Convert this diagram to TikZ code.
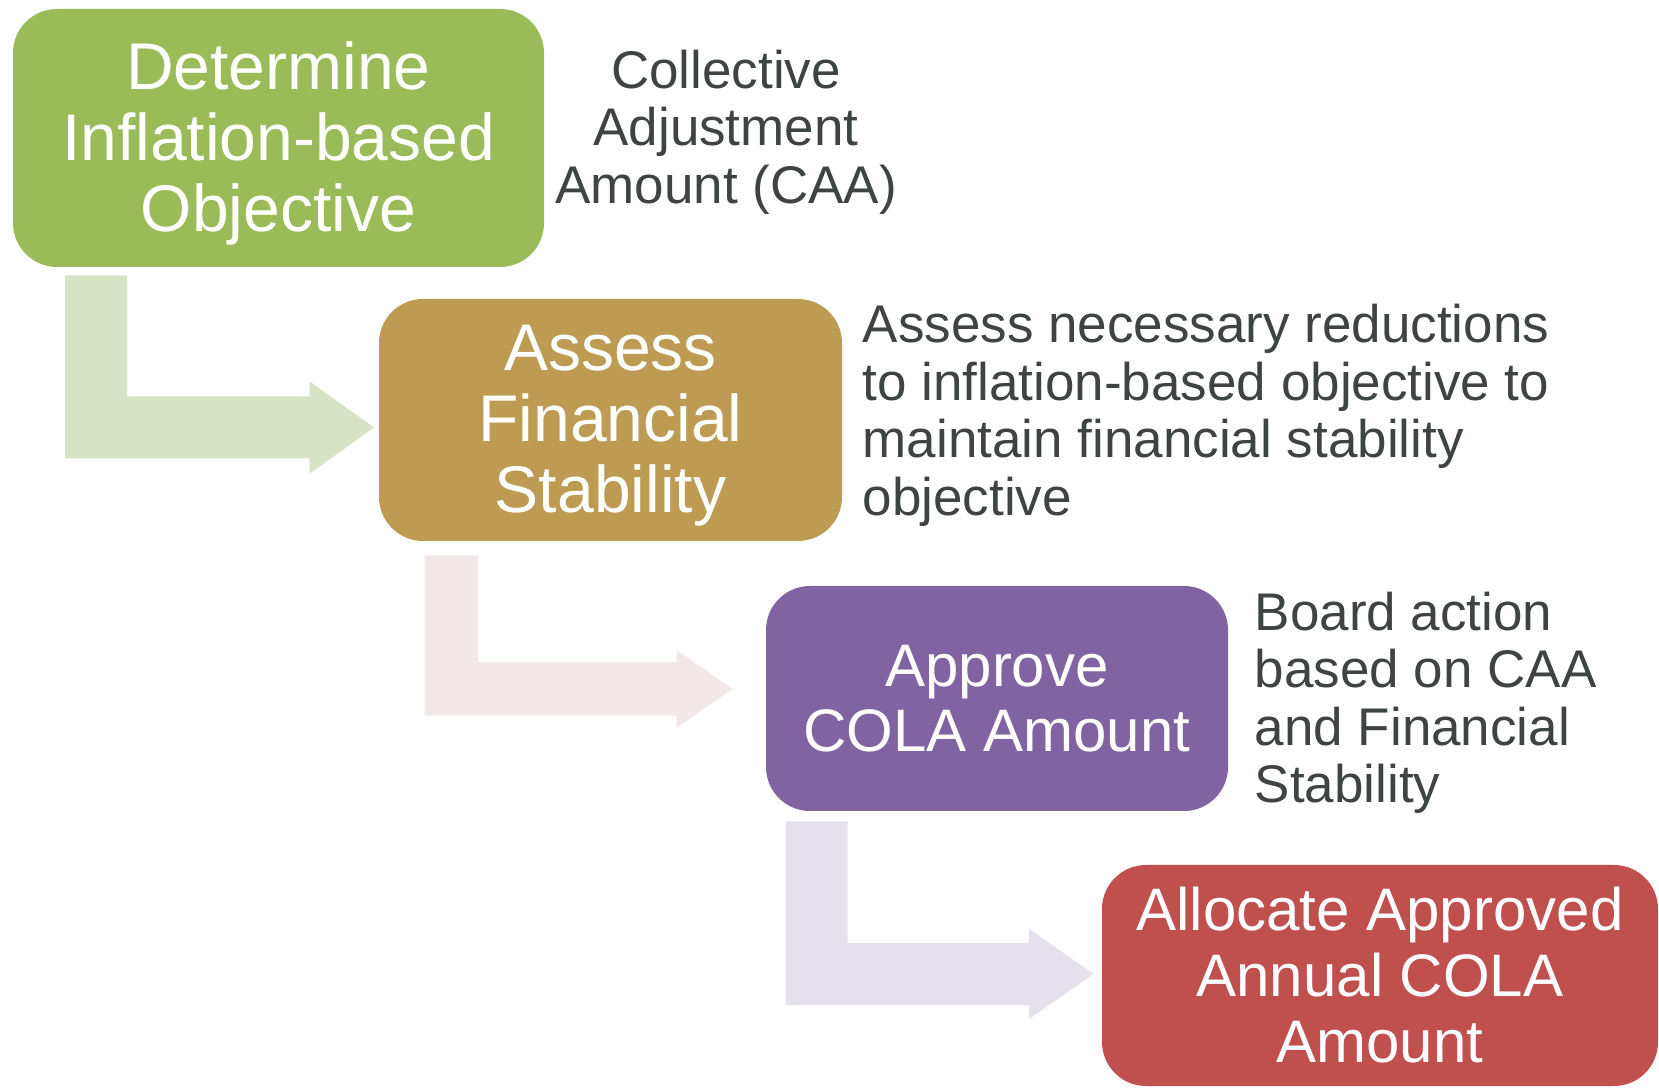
\documentclass[tikz,border=0pt]{standalone}
\usepackage{fontspec}
\setmainfont{Liberation Sans}
\usepackage{tikz}
\usetikzlibrary{positioning,calc}
\usepackage{xcolor}
\definecolor{stepgreen}{RGB}{155,187,89}
\definecolor{stepbrown}{RGB}{190,155,83}
\definecolor{steppurple}{RGB}{128,100,162}
\definecolor{stepred}{RGB}{192,80,77}
\definecolor{arrowgreen}{RGB}{215,227,197}
\definecolor{arrowpink}{RGB}{242,232,232}
\definecolor{arrowlilac}{RGB}{229,224,236}
\definecolor{notegray}{RGB}{62,68,68}

% bent block arrow: colour, shaft top-left, tip, bar width, head half height, head length
\newcommand{\bentarrow}[6]{%
  \fill[#1] let \p1=(#2), \p2=(#3) in
    (\x1,\y1) -- (\x1+#4,\y1) -- (\x1+#4,\y2+#4/2) -- (\x2-#6,\y2+#4/2)
    -- (\x2-#6,\y2+#5) -- (\x2,\y2) -- (\x2-#6,\y2-#5) -- (\x2-#6,\y2-#4/2)
    -- (\x1,\y2-#4/2) -- cycle;
}

\begin{document}
\begin{tikzpicture}[x=0.5pt,y=0.5pt,
  stepbox/.style={rounded corners=22pt,inner sep=0pt},
  steptext/.style={text=white,align=center,inner sep=0pt},
  bigtext/.style={font=\fontsize{33}{35.5}\selectfont},
  midtext/.style={font=\fontsize{30}{32.5}\selectfont},
  note/.style={text=notegray,inner sep=0pt,font=\fontsize{26.5}{28.75}\selectfont}]
\useasboundingbox (0,0) rectangle (1659,1087);
% Step boxes
\node[stepbox,fill=stepgreen,minimum width=265.5pt,minimum height=129pt] (det) at (278.5,949) {};
\node[stepbox,fill=stepbrown,minimum width=231.5pt,minimum height=121pt] (fin) at (610.5,667) {};
\node[stepbox,fill=steppurple,minimum width=231pt,minimum height=112.5pt] (appr) at (997,388.5) {};
\node[stepbox,fill=stepred,minimum width=278pt,minimum height=110.5pt] (alloc) at (1380,111.5) {};
% Box texts
\node[steptext,bigtext] (dettext) at ([yshift=-2.6pt]det.center) {Determine\\Inflation-based\\Objective};
\node[steptext,bigtext] (fintext) at ([yshift=-2.6pt]fin.center) {Assess\\Financial\\Stability};
\node[steptext,midtext] (apprtext) at (appr.center) {Approve\\COLA Amount};
\node[steptext,font=\fontsize{30}{33}\selectfont] (alloctext) at (alloc.center) {Allocate Approved\\Annual COLA\\Amount};
% Notes
\node[note,align=center,yshift=-2.1pt] (caa) at (726,959) {Collective\\Adjustment\\Amount (CAA)};
\node[note,align=left,anchor=west,right=10pt of fin,yshift=2.4pt] (finnote) {Assess necessary reductions\\to inflation-based objective to\\maintain financial stability\\objective};
\node[note,align=left,anchor=west,right=13pt of appr,yshift=-2.1pt] (apprnote) {Board action\\based on CAA\\and Financial\\Stability};
% Arrow ends
\coordinate[below=4pt of det.south west,xshift=26.3pt] (top1);
\coordinate[left=2.25pt of fin.west,yshift=-3.75pt] (tip1);
\coordinate[below=7pt of fin.south west,xshift=23pt] (top2);
\coordinate[left=16.5pt of appr.west,yshift=4.75pt] (tip2);
\coordinate[below=5pt of appr.south west,xshift=10pt] (top3);
\coordinate[left=4pt of alloc.west,yshift=0.75pt] (tip3);
% Arrows
\bentarrow{arrowgreen}{top1}{tip1}{31pt}{23pt}{32.25pt}
\bentarrow{arrowpink}{top2}{tip2}{26.75pt}{19.5pt}{28pt}
\bentarrow{arrowlilac}{top3}{tip3}{31pt}{22.5pt}{32.25pt}
\end{tikzpicture}
\end{document}
